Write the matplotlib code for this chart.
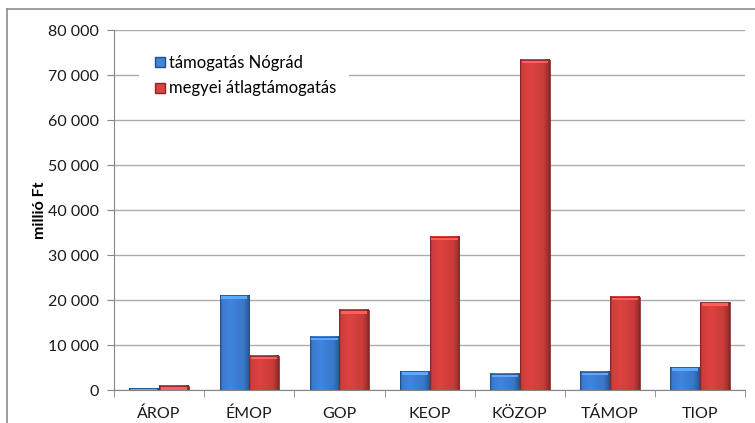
import numpy as np
import matplotlib.pyplot as plt
from matplotlib.ticker import FuncFormatter, MultipleLocator
from matplotlib.lines import Line2D
from matplotlib.patches import Rectangle

plt.rcParams['font.family'] = ['Lato', 'DejaVu Sans']

programs = ['ÁROP', 'ÉMOP', 'GOP', 'KEOP', 'KÖZOP', 'TÁMOP', 'TIOP']
nograd = [370, 21100, 11850, 4200, 3650, 4050, 5100]
megyei = [890, 7650, 17800, 34100, 73400, 20750, 19450]
series_names = ['támogatás Nógrád', 'megyei átlagtámogatás']

blue = np.array([0.25, 0.52, 0.87])
red = np.array([0.87, 0.26, 0.25])


def shaded_bar(ax, bar, base):
    # horizontal shading plus a light bevel on the top edge
    x0, y0 = bar.get_x(), bar.get_y()
    w, h = bar.get_width(), bar.get_height()
    t = np.linspace(0, 1, 60)
    prof = np.interp(t, [0, 0.06, 0.35, 0.8, 0.94, 1.0],
                     [0.62, 0.92, 1.0, 0.9, 0.72, 0.6])
    img = np.clip(base[None, None, :] * prof[None, :, None], 0, 1)
    img = np.repeat(img, 2, axis=0)
    ax.imshow(img, extent=[x0, x0 + w, y0, y0 + h], aspect='auto',
              origin='lower', zorder=3, interpolation='bilinear')
    bevel = min(h, 800)
    top = np.clip(base * 1.15 + 0.07, 0, 1)
    ax.add_patch(Rectangle((x0 + w * 0.06, y0 + h - bevel), w * 0.88, bevel,
                           facecolor=top, edgecolor='none', zorder=4))
    ax.add_patch(Rectangle((x0, y0), w, h, facecolor='none',
                           edgecolor=base * 0.6, linewidth=0.6, zorder=5))


fig = plt.figure(figsize=(7.55, 4.23), dpi=100)
ax = fig.add_axes([0.151, 0.078, 0.836, 0.851])

x = np.arange(len(programs))
width = 0.33
bars1 = ax.bar(x - width / 2, nograd, width, color='none', zorder=2)
bars2 = ax.bar(x + width / 2, megyei, width, color='none', zorder=2)
for b in bars1:
    shaded_bar(ax, b, blue)
for b in bars2:
    shaded_bar(ax, b, red)

ax.set_xlim(-0.5, len(programs) - 0.5)
ax.set_ylim(0, 80000)
ax.yaxis.set_major_locator(MultipleLocator(10000))
ax.yaxis.set_major_formatter(FuncFormatter(lambda v, p: f'{int(v):,}'.replace(',', ' ')))
ax.set_xticks(x)
ax.set_xticklabels(programs)
ax.set_xticks(np.arange(len(programs) + 1) - 0.5, minor=True)
ax.tick_params(axis='x', which='major', length=0, pad=12, labelsize=11.5, colors='#1a1a1a')
ax.tick_params(axis='x', which='minor', length=5, color='#868686')
ax.tick_params(axis='y', length=5, color='#868686', labelsize=11.5, labelcolor='#1a1a1a', pad=6)

ax.grid(axis='y', color='#ababab', linewidth=1, zorder=0)
ax.set_axisbelow(True)
for s in ['top', 'right']:
    ax.spines[s].set_visible(False)
for s in ['left', 'bottom']:
    ax.spines[s].set_color('#868686')
    ax.spines[s].set_zorder(6)

ax.set_ylabel('millió Ft', fontsize=11.5, fontweight='bold')
ax.yaxis.set_label_coords(-0.106, 0.5)

handles = [Line2D([], [], marker='s', linestyle='none', markersize=7,
                  markerfacecolor=c, markeredgecolor=c * 0.6)
           for c in (blue, red)]
leg = ax.legend(handles, series_names, loc='upper left',
                bbox_to_anchor=(0.026, 0.99), frameon=True, fancybox=False,
                edgecolor='none', framealpha=1, fontsize=12,
                handletextpad=0.1, handlelength=0.9, labelspacing=0.55,
                borderpad=0.8)
leg.set_zorder(7)

# outer chart frame
fig.add_artist(Line2D([0.0093, 1.0], [0.9787, 0.9787], color='#8c8c8c', linewidth=1.2))
fig.add_artist(Line2D([0.0093, 0.0093], [0.0, 0.9787], color='#8c8c8c', linewidth=1.2))

fig.savefig('out.png', dpi=100)
